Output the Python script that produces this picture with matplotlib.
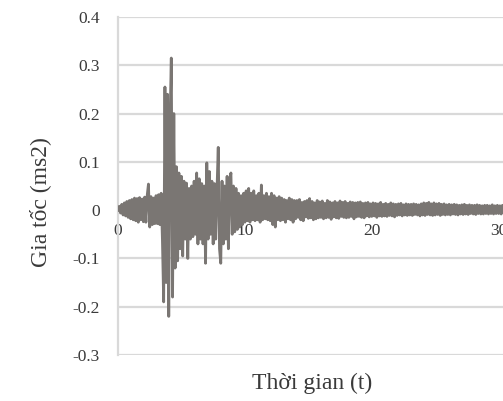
import numpy as np
import matplotlib.pyplot as plt

# acceleration record, one value every 0.1 s
# strong part: t = 0 .. 13.9 s
acc_strong = [
    0.000, 0.008, -0.006, 0.012, -0.010, 0.015, -0.012, 0.018, -0.015, 0.020,
    -0.018, 0.022, -0.020, 0.025, -0.022, 0.024, -0.025, 0.026, -0.020, 0.023,
    -0.024, 0.027, -0.025, 0.030, 0.054, -0.035, 0.028, -0.030, 0.025, -0.028,
    0.030, -0.028, 0.032, -0.030, 0.035, -0.060, -0.190, 0.255, -0.150, 0.240,
    -0.220, 0.180, 0.315, -0.180, 0.200, -0.120, 0.090, -0.105, 0.077, -0.080,
    0.070, -0.095, 0.060, -0.060, 0.056, -0.100, 0.045, -0.060, 0.050, -0.055,
    0.060, -0.050, 0.077, -0.070, 0.065, -0.060, 0.055, -0.070, 0.050, -0.110,
    0.098, -0.060, 0.080, -0.050, 0.060, -0.070, 0.055, -0.060, 0.040, 0.130,
    -0.080, -0.110, 0.060, -0.070, 0.050, -0.060, 0.070, -0.080, 0.060, 0.077,
    -0.050, 0.050, -0.045, 0.045, -0.040, 0.035, -0.035, 0.030, -0.030, 0.035,
    -0.025, 0.040, -0.022, 0.045, -0.025, 0.035, -0.020, 0.040, -0.022, 0.030,
    -0.020, 0.035, -0.025, 0.052, -0.020, 0.030, -0.018, 0.035, -0.020, 0.028,
    -0.022, 0.035, -0.030, 0.030, -0.035, 0.025, -0.020, 0.028, -0.022, 0.025,
    -0.020, 0.022, -0.025, 0.020, -0.018, 0.025, -0.020, 0.022, -0.025, 0.020,
]
# tail: t = 14 .. 31.9 s
acc_tail = [
    -0.018, 0.020, -0.015, 0.022, -0.020, 0.016, -0.022, 0.018, -0.014, 0.020,
    -0.017, 0.024, -0.016, 0.018, -0.020, 0.015, -0.018, 0.020, -0.016, 0.017,
    -0.015, 0.019, -0.018, 0.014, -0.016, 0.020, -0.015, 0.017, -0.019, 0.015,
    -0.014, 0.018, -0.016, 0.015, -0.017, 0.019, -0.013, 0.016, -0.015, 0.018,
    -0.016, 0.014, -0.015, 0.017, -0.013, 0.016, -0.018, 0.015, -0.014, 0.016,
    -0.013, 0.017, -0.015, 0.014, -0.016, 0.015, -0.012, 0.016, -0.014, 0.013,
    -0.013, 0.015, -0.012, 0.014, -0.015, 0.013, -0.012, 0.016, -0.013, 0.012,
    -0.012, 0.014, -0.013, 0.012, -0.011, 0.015, -0.012, 0.013, -0.014, 0.012,
    -0.011, 0.013, -0.010, 0.014, -0.012, 0.011, -0.010, 0.013, -0.011, 0.012,
    -0.010, 0.012, -0.011, 0.013, -0.009, 0.012, -0.010, 0.011, -0.012, 0.013,
    -0.010, 0.015, -0.011, 0.014, -0.009, 0.016, -0.010, 0.013, -0.011, 0.015,
    -0.010, 0.013, -0.009, 0.014, -0.011, 0.012, -0.009, 0.013, -0.010, 0.011,
    -0.009, 0.012, -0.010, 0.011, -0.008, 0.012, -0.009, 0.011, -0.010, 0.010,
    -0.008, 0.011, -0.009, 0.012, -0.008, 0.010, -0.009, 0.011, -0.007, 0.010,
    -0.008, 0.010, -0.009, 0.011, -0.007, 0.010, -0.008, 0.009, -0.008, 0.010,
    -0.007, 0.010, -0.008, 0.009, -0.007, 0.011, -0.008, 0.009, -0.007, 0.010,
    -0.007, 0.009, -0.008, 0.010, -0.006, 0.009, -0.007, 0.008, -0.007, 0.009,
    -0.006, 0.008, -0.007, 0.009, -0.006, 0.008, -0.007, 0.008, -0.006, 0.008,
]
acc = np.array(acc_strong + acc_tail)
t = np.arange(len(acc)) * 0.1

x_ticks = [0, 10, 20, 30]
y_ticks = [-0.3, -0.2, -0.1, 0, 0.1, 0.2, 0.3, 0.4]
y_labels = ['-0.3', '-0.2', '-0.1', '0', '0.1', '0.2', '0.3', '0.4']

plt.rcParams['font.family'] = ['Liberation Serif', 'DejaVu Serif']
txt = '#3a3a3a'
grid = '#d9d9d9'

fig = plt.figure(figsize=(5.03, 4.01), dpi=100)
ax = fig.add_axes([118 / 503, 1 - 355 / 401, 406 / 503, 338 / 401])

ax.plot(t, acc, color='#7a7673', linewidth=2.0, zorder=3)

ax.set_xlim(0, 32)
ax.set_ylim(-0.3, 0.4)
ax.set_yticks(y_ticks)
ax.set_yticklabels(y_labels)
ax.set_xticks(x_ticks)
ax.grid(axis='y', color=grid, linewidth=1.6, zorder=0)

for s in ['top', 'right']:
    ax.spines[s].set_visible(False)
ax.spines['left'].set_color(grid)
ax.spines['left'].set_linewidth(1.6)
ax.spines['bottom'].set_position(('data', 0))
ax.spines['bottom'].set_visible(False)

ax.tick_params(axis='y', length=0, pad=13, labelsize=12.5, labelcolor=txt)
ax.tick_params(axis='x', length=0, pad=9, labelsize=12.5, labelcolor=txt)

fig.text(40 / 503, 1 - 202 / 401, 'Gia tốc (ms2)', rotation=90,
         ha='center', va='center', fontsize=17, color=txt)
fig.text(312 / 503, 1 - 383 / 401, 'Thời gian (t)',
         ha='center', va='center', fontsize=17, color=txt)

plt.savefig('out.png', dpi=100)
